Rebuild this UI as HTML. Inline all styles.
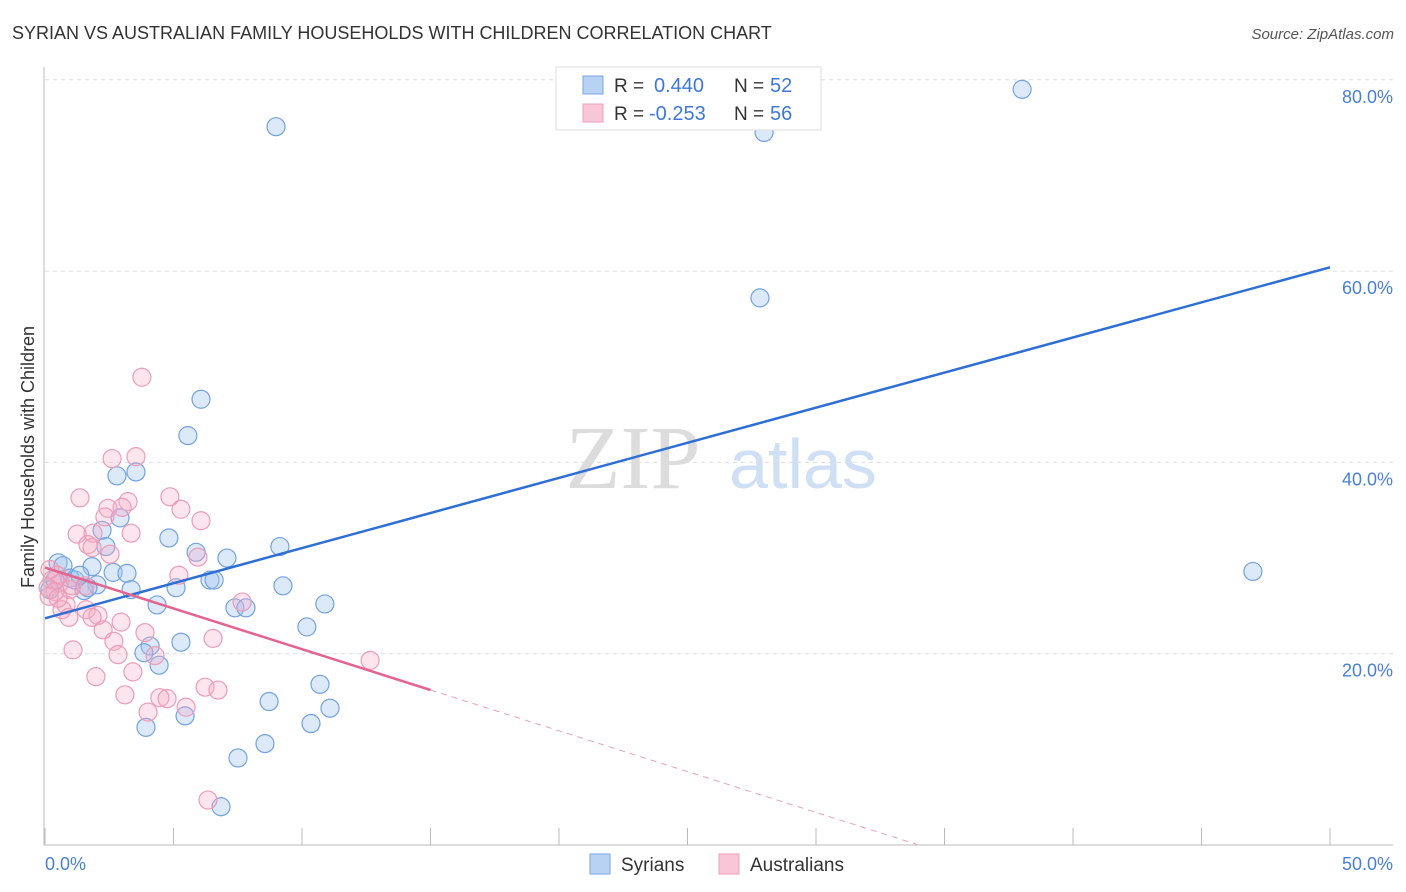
<!DOCTYPE html>
<html><head><meta charset="utf-8">
<style>
body{margin:0;background:#fff;font-family:"Liberation Sans",sans-serif;}
#wrap{position:relative;width:1406px;height:892px;overflow:hidden;}
</style></head>
<body>
<div id="wrap">
<svg id="chart" width="1406" height="892" xmlns="http://www.w3.org/2000/svg">
<text x="12" y="39" font-size="18" fill="#333">SYRIAN VS AUSTRALIAN FAMILY HOUSEHOLDS WITH CHILDREN CORRELATION CHART</text>
<text x="1394" y="39" font-size="15" fill="#555" font-style="italic" text-anchor="end">Source: ZipAtlas.com</text>
<text x="633" y="488" font-size="90" fill="#dcdcdc" font-family="Liberation Serif,serif" text-anchor="middle">ZIP</text>
<text x="803" y="488" font-size="70" fill="#cfdff4" text-anchor="middle">atlas</text>
<text transform="translate(34,457) rotate(-90)" font-size="18" fill="#333" text-anchor="middle">Family Households with Children</text>
<g id="grid"></g><g id="ticks"></g><g id="pts"></g><g id="lines"></g>
<line x1="44" y1="67" x2="44" y2="845" stroke="#bbb"/>
<line x1="44" y1="845" x2="1393" y2="845" stroke="#bbb"/>
<text x="45" y="870" font-size="18" fill="#4a7fd6">0.0%</text>
<text x="1393" y="870" font-size="18" fill="#4a7fd6" text-anchor="end">50.0%</text>
<g>
<rect x="556" y="67" width="265" height="63" fill="#fff" stroke="#ddd"/>
<rect x="583" y="76" width="20" height="18" fill="#b8d2f4" stroke="#7aa6e2"/>
<rect x="583" y="104" width="20" height="18" fill="#f8c6d6" stroke="#eba1ba"/>
<text x="614" y="92" font-size="19" fill="#333">R = </text><text x="654" y="92" font-size="20" fill="#3f78d4">0.440</text>
<text x="734" y="92" font-size="19" fill="#333">N = </text><text x="770" y="92" font-size="20" fill="#3f78d4">52</text>
<text x="614" y="120" font-size="19" fill="#333">R = </text><text x="649" y="120" font-size="20" fill="#3f78d4">-0.253</text>
<text x="734" y="120" font-size="19" fill="#333">N = </text><text x="770" y="120" font-size="20" fill="#3f78d4">56</text>
</g>
<g><rect x="590" y="854" width="20" height="20" fill="#b8d2f4" stroke="#7aa6e2"/><text x="621" y="871" font-size="19" fill="#333">Syrians</text></g>
<g><rect x="719" y="854" width="20" height="20" fill="#f8c6d6" stroke="#eba1ba"/><text x="750" y="871" font-size="19" fill="#333">Australians</text></g>
</svg>
</div>
<script>
const yTicks=[20,40,60,80];
const xTicks=[0,5,10,15,20,25,30,35,40,45,50];
const syrX=[8.99,27.98,38.02,27.82,6.07,5.56,3.54,2.80,2.92,2.22,2.37,4.82,5.88,7.08,9.14,0.51,0.70,1.83,2.65,3.19,0.97,1.17,2.02,1.52,1.67,3.35,5.10,6.42,6.58,9.26,4.36,7.39,7.82,10.89,10.19,5.29,4.09,3.85,4.44,10.70,11.09,5.45,8.72,3.93,10.35,8.56,7.51,6.85,47.0,0.19,0.39,1.36];
const syrY=[75.1,74.5,79.0,57.2,46.6,42.8,39.0,38.6,34.2,32.9,31.2,32.1,30.6,30.0,31.2,29.5,29.2,29.1,28.5,28.4,27.9,27.7,27.2,26.6,26.9,26.7,26.9,27.7,27.7,27.1,25.1,24.8,24.8,25.2,22.8,21.2,20.8,20.1,18.8,16.8,14.3,13.5,15.0,12.3,12.7,10.6,9.1,4.0,28.6,26.7,27.7,28.2];
const ausX=[3.77,2.61,3.54,1.36,4.86,3.23,3.00,2.45,2.33,5.29,6.07,1.25,3.35,1.87,1.67,1.83,2.53,5.95,5.21,0.47,0.27,0.58,0.12,0.39,0.97,1.05,1.56,0.82,0.66,1.60,2.06,0.93,1.83,2.96,2.26,3.89,6.54,2.68,1.09,2.84,4.28,7.67,12.65,1.98,3.42,3.11,4.47,4.75,6.23,6.73,5.49,4.01,6.34,0.16,0.51,0.19];
const ausY=[48.9,40.4,40.6,36.3,36.4,35.9,35.3,35.2,34.3,35.1,33.9,32.5,32.6,32.6,31.4,31.1,30.4,30.1,28.2,28.2,27.7,27.4,26.9,26.5,26.7,27.1,27.1,25.1,24.6,24.6,24.0,23.8,23.8,23.3,22.5,22.2,21.6,21.3,20.4,19.9,19.8,25.4,19.3,17.6,18.1,15.7,15.4,15.3,16.5,16.2,14.4,13.9,4.7,26.0,25.8,28.8];
const syrTrend=[23.7,0.734]; // intercept, slope
const ausTrend=[29.0,-0.853];
const X=v=>45+v*25.7, Y=v=>845-v*9.565;
const NS="http://www.w3.org/2000/svg";
function mk(tag,attrs,parent){const e=document.createElementNS(NS,tag);for(const k in attrs)e.setAttribute(k,attrs[k]);document.getElementById(parent).appendChild(e);return e;}
yTicks.forEach(t=>{
  const l=mk('line',{x1:45,x2:1393,y1:Y(t),y2:Y(t),stroke:'#ddd','stroke-dasharray':'4,4'},'grid');
  
  
  const tx=mk('text',{x:1393,y:Y(t)+23,'font-size':18,fill:'#4a7fd6','text-anchor':'end'},'grid');
  tx.textContent=t.toFixed(1)+'%';
  
  
});
xTicks.forEach(t=>{
  const l=mk('line',{x1:X(t),x2:X(t),y1:828,y2:845,stroke:'#bbb'},'ticks');
  
  
});
syrX.forEach((v,i)=>{
  const c=mk('circle',{cx:X(v),cy:Y(syrY[i]),r:9,fill:'rgba(160,196,240,0.38)',stroke:'#74a2e0','stroke-width':1.2},'pts');
  
  
});
ausX.forEach((v,i)=>{
  const c=mk('circle',{cx:X(v),cy:Y(ausY[i]),r:9,fill:'rgba(245,170,195,0.3)',stroke:'#ec9cb8','stroke-width':1.2},'pts');
  
  
});
let l1=mk('line',{x1:X(0),y1:Y(syrTrend[0]),x2:X(50),y2:Y(syrTrend[0]+50*syrTrend[1]),stroke:'#2f6fd4','stroke-width':2.5},'lines');


let l2=mk('line',{x1:X(0),y1:Y(ausTrend[0]),x2:X(15),y2:Y(ausTrend[0]+15*ausTrend[1]),stroke:'#e4648e','stroke-width':2.5},'lines');


const xEnd=-ausTrend[0]/ausTrend[1];
let l3=mk('line',{x1:X(15),y1:Y(ausTrend[0]+15*ausTrend[1]),x2:X(xEnd),y2:Y(0),stroke:'#eba1ba','stroke-width':1,'stroke-dasharray':'6,5'},'lines');


</script>
</body></html>
